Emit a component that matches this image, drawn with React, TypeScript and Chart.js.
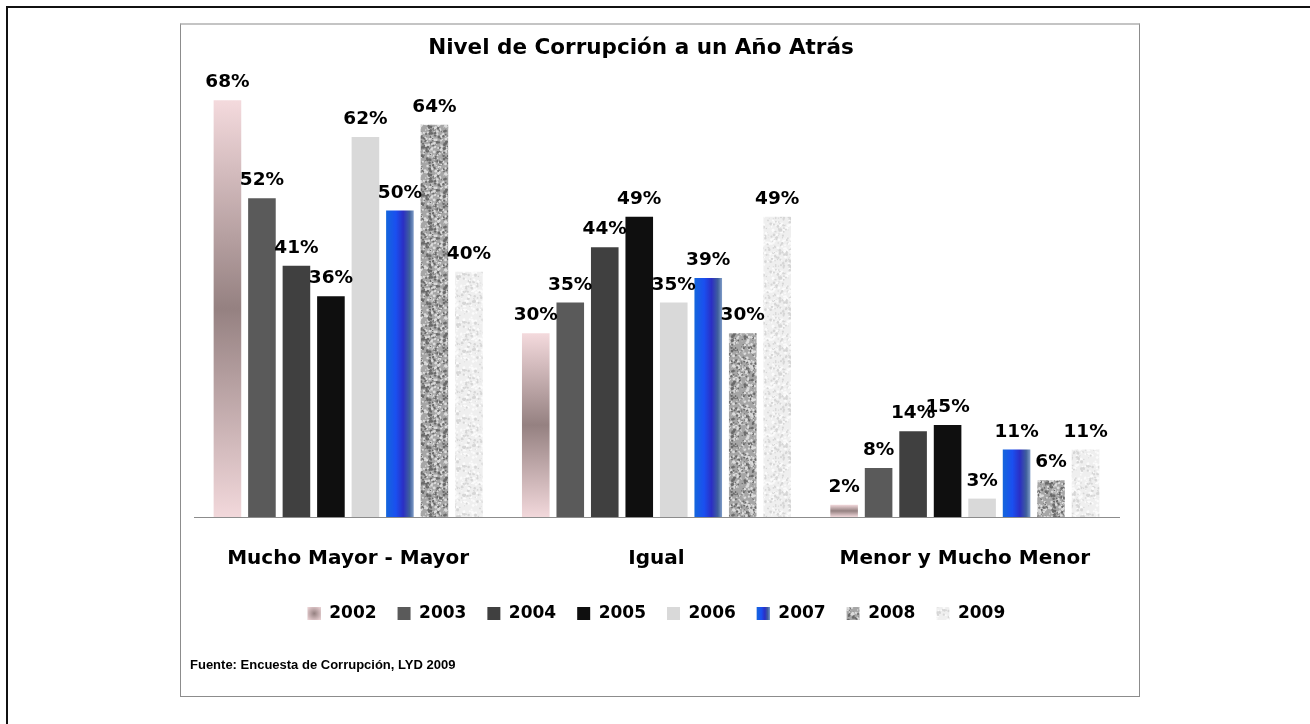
import React, { useEffect, useRef } from 'react';
import { Chart, registerables } from 'chart.js';

Chart.register(...registerables);

const categories = ['Mucho Mayor - Mayor', 'Igual', 'Menor y Mucho Menor'];
const years = ['2002', '2003', '2004', '2005', '2006', '2007', '2008', '2009'];
const v2002 = [68, 30, 2];
const v2003 = [52, 35, 8];
const v2004 = [41, 44, 14];
const v2005 = [36, 49, 15];
const v2006 = [62, 35, 3];
const v2007 = [50, 39, 11];
const v2008 = [64, 30, 6];
const v2009 = [40, 49, 11];
const seriesValues = [v2002, v2003, v2004, v2005, v2006, v2007, v2008, v2009];
const titleText = 'Nivel de Corrupción a un Año Atrás';
const sourceText = 'Fuente: Encuesta de Corrupción, LYD 2009';
const yMax = 70;

const CAT_PCT = 0.895;
const BAR_PCT = 0.8;
const FONT = "'DejaVu Sans'";

function makeTexture(
  target: CanvasRenderingContext2D,
  base: string,
  dark: string,
  light: string,
  count: number,
  seed: number,
  maxR: number
) {
  const size = 48;
  const c = document.createElement('canvas');
  c.width = size;
  c.height = size;
  const g = c.getContext('2d')!;
  g.fillStyle = base;
  g.fillRect(0, 0, size, size);
  let s = seed >>> 0;
  const rnd = () => {
    s = (Math.imul(s, 1664525) + 1013904223) >>> 0;
    return s / 4294967296;
  };
  for (let i = 0; i < count; i++) {
    const x = rnd() * size;
    const y = rnd() * size;
    const r = 0.4 + rnd() * maxR;
    g.fillStyle = rnd() < 0.5 ? dark : light;
    for (const dx of [-size, 0, size]) {
      for (const dy of [-size, 0, size]) {
        g.beginPath();
        g.arc(x + dx, y + dy, r, 0, Math.PI * 2);
        g.fill();
      }
    }
  }
  return target.createPattern(c, 'repeat') as CanvasPattern;
}

function pinkGrad(ctx: CanvasRenderingContext2D, top: number, bottom: number) {
  const g = ctx.createLinearGradient(0, top, 0, bottom);
  g.addColorStop(0, '#f4dadd');
  g.addColorStop(0.5, '#958181');
  g.addColorStop(1, '#f2d8db');
  return g;
}

function blueGrad(ctx: CanvasRenderingContext2D, left: number, right: number) {
  const g = ctx.createLinearGradient(left, 0, right, 0);
  g.addColorStop(0, '#1466dc');
  g.addColorStop(0.35, '#1a4ff0');
  g.addColorStop(0.62, '#2b2fc4');
  g.addColorStop(0.85, '#3f5f9c');
  g.addColorStop(1, '#7f9cc8');
  return g;
}

export default function App() {
  const canvasRef = useRef<HTMLCanvasElement | null>(null);

  useEffect(() => {
    const canvas = canvasRef.current;
    if (!canvas) return;
    const ctx2d = canvas.getContext('2d')!;
    const tex2008 = makeTexture(ctx2d, '#a6a6a6', '#6a6a6a', '#dcdcdc', 520, 12345, 1.1);
    const tex2009 = makeTexture(ctx2d, '#efefef', '#d6d6d6', '#fbfbfb', 360, 777, 1.1);

    const barRange = (c: any, dsIndex: number) => {
      const chart = c.chart;
      const xs = chart.scales.x;
      const n = chart.data.labels.length;
      const catW = xs.width / n;
      const center = xs.getPixelForValue(c.dataIndex);
      const slot = (catW * CAT_PCT) / years.length;
      const left = center - (catW * CAT_PCT) / 2 + slot * dsIndex + (slot * (1 - BAR_PCT)) / 2;
      return [left, left + slot * BAR_PCT];
    };

    const solid = ['#000', '#5a5a5a', '#404040', '#0f0f0f', '#d9d9d9', '#000', tex2008, tex2009];

    const datasets = seriesValues.map((vals, i) => {
      let bg: any = solid[i];
      if (i === 0) {
        bg = (c: any) => {
          const chart = c.chart;
          if (!chart.chartArea || c.type !== 'data') return '#c4aeb0';
          const ys = chart.scales.y;
          return pinkGrad(chart.ctx, ys.getPixelForValue(c.raw), ys.getPixelForValue(0));
        };
      } else if (i === 5) {
        bg = (c: any) => {
          const chart = c.chart;
          if (!chart.chartArea || c.type !== 'data') return '#2148d8';
          const [l, r] = barRange(c, 5);
          return blueGrad(chart.ctx, l, r);
        };
      }
      return {
        label: years[i],
        data: vals,
        backgroundColor: bg,
        borderWidth: 0,
        categoryPercentage: CAT_PCT,
        barPercentage: BAR_PCT,
      };
    });

    const legendFills = ['#c4aeb0', '#5a5a5a', '#404040', '#0f0f0f', '#d9d9d9', '#2148d8', tex2008, tex2009];

    const decorPlugin = {
      id: 'decor',
      afterDatasetsDraw(chart: any) {
        const ctx = chart.ctx;
        ctx.save();
        ctx.font = `bold 18.5px ${FONT}`;
        ctx.fillStyle = '#000';
        ctx.textAlign = 'center';
        ctx.textBaseline = 'alphabetic';
        chart.data.datasets.forEach((ds: any, di: number) => {
          const meta = chart.getDatasetMeta(di);
          meta.data.forEach((el: any, i: number) => {
            ctx.fillText(ds.data[i] + '%', el.x, el.y - 13);
          });
        });
        ctx.restore();
      },
      afterDraw(chart: any) {
        const ctx = chart.ctx;
        ctx.save();
        ctx.font = `bold 21.5px ${FONT}`;
        ctx.fillStyle = '#000';
        ctx.textAlign = 'center';
        ctx.textBaseline = 'middle';
        ctx.fillText(titleText, 460, 24);
        ctx.font = "bold 13px 'Liberation Sans'";
        ctx.textAlign = 'left';
        ctx.fillText(sourceText, 9, 641);
        const lg = chart.legend;
        if (lg && lg.legendHitBoxes) {
          const box = 13;
          const fs = 17;
          [0, 5].forEach((idx) => {
            const hb = lg.legendHitBoxes[idx];
            if (!hb) return;
            const x = hb.left;
            const y = hb.top + Math.max((fs - box) / 2, 0);
            if (idx === 0) {
              const g = ctx.createRadialGradient(x + box / 2, y + box / 2, 0, x + box / 2, y + box / 2, box / 1.4);
              g.addColorStop(0, '#958181');
              g.addColorStop(1, '#f2d8db');
              ctx.fillStyle = g;
            } else {
              ctx.fillStyle = blueGrad(ctx, x, x + box);
            }
            ctx.fillRect(x, y, box, box);
          });
        }
        ctx.restore();
      },
    };

    const chart = new Chart(canvas, {
      type: 'bar',
      data: { labels: categories, datasets },
      options: {
        animation: false,
        responsive: false,
        devicePixelRatio: 1,
        layout: { padding: { top: 64, left: 13, right: 19, bottom: 63 } },
        scales: {
          x: {
            grid: { display: false, drawTicks: false },
            border: { display: true, color: '#8c8c8c', width: 1 },
            ticks: {
              color: '#000',
              padding: 31,
              maxRotation: 0,
              autoSkip: false,
              font: { family: FONT, size: 20, weight: 'bold', lineHeight: 1.1 },
            },
            afterFit: (scale: any) => {
              scale.height = 67;
            },
          },
          y: {
            display: false,
            min: 0,
            max: yMax,
          },
        },
        plugins: {
          title: { display: false },
          tooltip: { enabled: false },
          legend: {
            display: true,
            position: 'bottom',
            labels: {
              boxWidth: 13,
              boxHeight: 13,
              padding: 21,
              color: '#000',
              font: { family: FONT, size: 17, weight: 'bold' },
              generateLabels: (ch: any) =>
                ch.data.datasets.map((ds: any, i: number) => ({
                  text: ds.label,
                  fillStyle: legendFills[i],
                  strokeStyle: 'rgba(0,0,0,0)',
                  lineWidth: 0,
                  hidden: false,
                  datasetIndex: i,
                })),
            },
          },
        },
      },
      plugins: [decorPlugin],
    });

    return () => chart.destroy();
  }, []);

  return (
    <div style={{ position: 'absolute', left: 0, top: 0, width: 1310, height: 724, overflow: 'hidden', background: '#fff' }}>
      <div
        style={{
          position: 'absolute',
          left: 6,
          top: 6,
          width: 1304,
          height: 718,
          boxSizing: 'border-box',
          borderLeft: '2px solid #111',
          borderTop: '2px solid #111',
        }}
      />
      <div
        style={{
          position: 'absolute',
          left: 180,
          top: 23,
          width: 960,
          height: 674,
          boxSizing: 'border-box',
          borderTop: '2px solid #c4c4c4',
          borderLeft: '1px solid #8c8c8c',
          borderRight: '1px solid #8c8c8c',
          borderBottom: '1px solid #8c8c8c',
        }}
      />
      <canvas
        ref={canvasRef}
        width={957}
        height={671}
        style={{ position: 'absolute', left: 181, top: 24, width: 957, height: 671 }}
      />
    </div>
  );
}
